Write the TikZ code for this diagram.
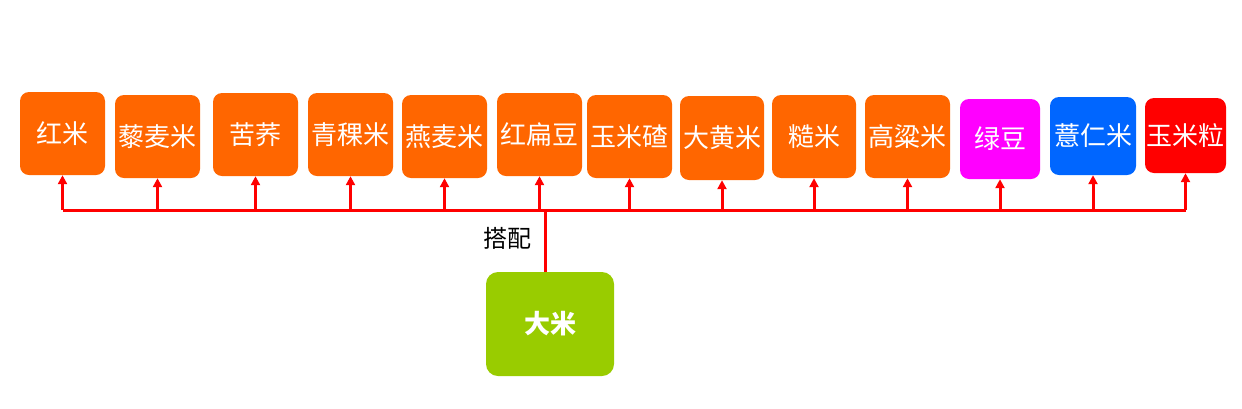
\documentclass[tikz,border=0pt]{standalone}
\usepackage{fontspec}
\setmainfont{Noto Sans CJK SC}
\usetikzlibrary{arrows.meta}
\definecolor{org}{HTML}{FF6600}
\definecolor{mag}{HTML}{FF00FF}
\definecolor{blu}{HTML}{0066FF}
\definecolor{rd}{HTML}{FF0000}
\definecolor{grn}{HTML}{99CC00}
\begin{document}
\begin{tikzpicture}[x=1pt,y=-1pt,
  grain/.style={rounded corners=9pt,minimum width=85pt,minimum height=83pt,inner sep=0pt,text=white,font=\fontsize{26}{28}\selectfont},
  link/.style={draw=rd,line width=3pt,-{Triangle[length=9pt,width=9pt]}},
  bus/.style={draw=rd,line width=3pt}]
\useasboundingbox (0,0) rectangle (1242,408);
\foreach \n/\x/\y/\w/\h/\c/\t in {a/62.5/133.5/85/83/org/红米, b/157.5/136.5/85/83/org/藜麦米, c/255.5/134.5/85/83/org/苦荞, d/350.5/134.5/85/83/org/青稞米, e/444.5/136.5/85/83/org/燕麦米, f/539.5/134.5/85/83/org/红扁豆, g/629.5/136.5/85/83/org/玉米碴, h/722/138/84/84/org/大黄米, i/814/136.5/84/83/org/糙米, j/907.5/136.5/85/83/org/高粱米, k/1000/139/80/80/mag/绿豆, l/1093/136/86/78/blu/薏仁米, m/1185.5/135.5/81/75/rd/玉米粒}{
  \node[grain,fill=\c,minimum width=\w pt,minimum height=\h pt] (\n) at (\x,\y) {\t};
}
\node[rounded corners=12pt,fill=grn,minimum width=128pt,minimum height=104pt,text=white,font=\bfseries\fontsize{26}{28}\selectfont] (rice) at (550,324) {大米};
\coordinate (L) at (62.5,210);
\coordinate (R) at (1186,210);
\coordinate (J) at (545,210);
\draw[bus] (L) -- (R);
\draw[bus] (rice.north -| J) -- (J);
\foreach \n in {a,b,c,d,e,f,g,h,i,j,k,l,m}{
  \draw[link] (\n.south |- L) -- (\n.south);
}
\node[font=\fontsize{24}{26}\selectfont] (lbl) at (507,238) {搭配};
\end{tikzpicture}
\end{document}
